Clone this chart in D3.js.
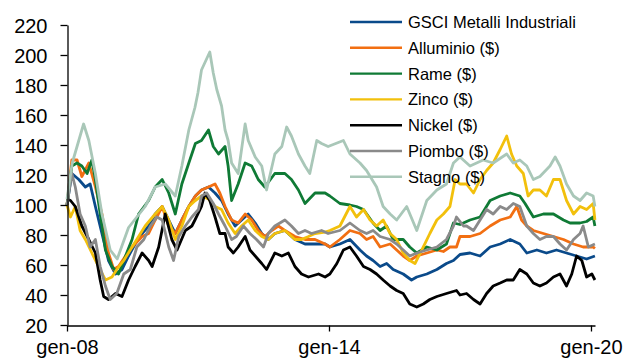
<!DOCTYPE html>
<html><head><meta charset="utf-8">
<script src="https://cdn.jsdelivr.net/npm/d3@7"></script>
<style>body{margin:0;background:#fff}svg{display:block}text{font-family:"Liberation Sans",Arial,sans-serif;fill:#000}</style>
</head><body><svg id="c" width="626" height="361"></svg>
<script>
// Series: [decimal year, index value]
const gsci = [[2008.00,100],[2008.11,121],[2008.27,117],[2008.42,112],[2008.53,114],[2008.65,99],[2008.80,81],[2008.95,63],[2009.11,54],[2009.26,57],[2009.41,66],[2009.56,74],[2009.72,81],[2009.87,86],[2010.02,94],[2010.18,99],[2010.33,90],[2010.48,81],[2010.63,90],[2010.79,99],[2010.94,106],[2011.08,110],[2011.24,112],[2011.39,108],[2011.54,103],[2011.69,94],[2011.85,86],[2012.00,90],[2012.15,94],[2012.31,88],[2012.46,81],[2012.61,77],[2012.76,81],[2012.99,83],[2013.22,77],[2013.45,74],[2013.68,74],[2013.91,74],[2014.02,72],[2014.25,74],[2014.48,77],[2014.71,70],[2014.86,66],[2015.01,63],[2015.17,59],[2015.32,61],[2015.47,57],[2015.70,54],[2015.89,50],[2016.01,52],[2016.24,54],[2016.47,57],[2016.69,61],[2016.85,63],[2017.00,67],[2017.23,68],[2017.46,66],[2017.69,72],[2017.92,74],[2018.15,77],[2018.37,74],[2018.53,68],[2018.76,70],[2018.98,68],[2019.21,70],[2019.44,68],[2019.67,66],[2019.90,64],[2020.09,66]];
const alluminio = [[2008.00,100],[2008.11,130],[2008.23,130],[2008.34,119],[2008.50,128],[2008.65,112],[2008.80,94],[2008.95,68],[2009.07,57],[2009.18,59],[2009.34,66],[2009.49,72],[2009.72,79],[2009.87,81],[2010.02,90],[2010.18,99],[2010.33,86],[2010.48,81],[2010.63,90],[2010.79,99],[2010.94,106],[2011.08,110],[2011.24,112],[2011.39,114],[2011.50,108],[2011.62,99],[2011.77,90],[2011.92,88],[2012.08,94],[2012.23,90],[2012.38,83],[2012.53,79],[2012.69,83],[2012.84,86],[2012.99,83],[2013.22,79],[2013.45,77],[2013.68,77],[2013.91,74],[2014.02,72],[2014.25,77],[2014.48,83],[2014.71,81],[2014.86,77],[2015.01,79],[2015.17,72],[2015.40,74],[2015.55,70],[2015.70,66],[2015.85,63],[2016.01,66],[2016.24,68],[2016.47,70],[2016.62,69],[2016.77,72],[2016.92,72],[2017.00,79],[2017.23,79],[2017.46,81],[2017.69,86],[2017.92,90],[2018.15,92],[2018.30,99],[2018.41,90],[2018.53,86],[2018.68,83],[2018.91,81],[2019.14,79],[2019.37,77],[2019.60,74],[2019.82,72],[2020.05,72],[2020.09,71]];
const rame = [[2008.00,100],[2008.11,126],[2008.23,128],[2008.34,126],[2008.46,121],[2008.57,130],[2008.65,117],[2008.76,94],[2008.88,70],[2009.03,59],[2009.18,54],[2009.34,66],[2009.49,77],[2009.64,94],[2009.87,103],[2010.02,112],[2010.18,117],[2010.33,108],[2010.48,94],[2010.63,114],[2010.79,128],[2010.94,141],[2011.08,143],[2011.24,150],[2011.35,139],[2011.47,134],[2011.62,139],[2011.69,126],[2011.77,103],[2011.92,114],[2012.08,128],[2012.23,126],[2012.38,117],[2012.53,112],[2012.76,121],[2012.99,121],[2013.14,117],[2013.30,110],[2013.45,101],[2013.68,108],[2013.91,108],[2014.02,106],[2014.25,101],[2014.48,100],[2014.63,99],[2014.79,97],[2015.01,88],[2015.17,83],[2015.32,86],[2015.47,77],[2015.70,77],[2015.85,72],[2016.01,68],[2016.24,72],[2016.47,70],[2016.69,74],[2016.85,88],[2017.00,87],[2017.23,90],[2017.46,92],[2017.69,103],[2017.92,106],[2018.15,108],[2018.37,106],[2018.49,101],[2018.68,92],[2018.91,94],[2019.14,94],[2019.37,90],[2019.52,88],[2019.75,88],[2019.90,89],[2020.05,92],[2020.09,86]];
const zinco = [[2008.00,100],[2008.08,92],[2008.19,99],[2008.30,83],[2008.42,77],[2008.57,68],[2008.72,59],[2008.88,50],[2009.03,52],[2009.14,57],[2009.30,63],[2009.49,72],[2009.64,79],[2009.79,86],[2010.02,94],[2010.18,99],[2010.33,90],[2010.48,77],[2010.63,86],[2010.79,99],[2010.94,103],[2011.08,106],[2011.24,104],[2011.39,99],[2011.54,97],[2011.69,88],[2011.85,81],[2012.00,86],[2012.15,90],[2012.31,83],[2012.46,79],[2012.61,77],[2012.76,81],[2012.99,83],[2013.22,77],[2013.37,77],[2013.53,79],[2013.68,81],[2013.91,82],[2014.02,83],[2014.25,86],[2014.48,99],[2014.63,92],[2014.79,97],[2014.94,90],[2015.09,86],[2015.24,90],[2015.40,81],[2015.55,77],[2015.70,68],[2015.85,63],[2015.97,61],[2016.16,72],[2016.31,81],[2016.47,90],[2016.62,94],[2016.77,99],[2016.89,117],[2017.00,114],[2017.15,114],[2017.31,108],[2017.46,117],[2017.61,123],[2017.76,128],[2017.92,137],[2018.07,146],[2018.18,134],[2018.30,126],[2018.45,121],[2018.56,106],[2018.68,110],[2018.83,110],[2018.98,106],[2019.14,117],[2019.29,117],[2019.44,103],[2019.60,94],[2019.75,99],[2019.90,97],[2020.05,101],[2020.09,90]];
const nickel = [[2008.00,104],[2008.08,103],[2008.19,99],[2008.34,86],[2008.50,77],[2008.65,68],[2008.76,50],[2008.84,39],[2008.95,37],[2009.11,41],[2009.26,39],[2009.41,50],[2009.56,59],[2009.72,68],[2009.87,63],[2009.95,59],[2010.10,72],[2010.25,94],[2010.40,77],[2010.52,70],[2010.71,83],[2010.86,86],[2010.93,90],[2011.08,99],[2011.16,108],[2011.27,103],[2011.39,92],[2011.50,81],[2011.62,81],[2011.69,72],[2011.81,68],[2011.92,72],[2012.08,79],[2012.19,70],[2012.31,66],[2012.46,61],[2012.57,57],[2012.76,68],[2012.92,66],[2013.07,68],[2013.22,59],[2013.37,54],[2013.53,52],[2013.76,54],[2013.91,52],[2014.02,54],[2014.18,61],[2014.33,70],[2014.48,72],[2014.63,66],[2014.79,59],[2014.94,57],[2015.09,54],[2015.24,50],[2015.40,46],[2015.55,43],[2015.70,41],[2015.85,34],[2016.01,32],[2016.16,34],[2016.31,37],[2016.47,39],[2016.69,41],[2016.92,43],[2017.00,40],[2017.15,41],[2017.31,37],[2017.46,34],[2017.61,41],[2017.76,46],[2017.92,48],[2018.07,50],[2018.22,50],[2018.37,57],[2018.53,54],[2018.68,48],[2018.83,46],[2018.98,48],[2019.14,52],[2019.29,54],[2019.44,46],[2019.56,54],[2019.67,66],[2019.79,63],[2019.90,52],[2020.02,54],[2020.09,50]];
const piombo = [[2008.00,100],[2008.11,121],[2008.19,112],[2008.30,94],[2008.42,86],[2008.53,72],[2008.65,77],[2008.76,59],[2008.88,46],[2008.99,37],[2009.14,41],[2009.30,54],[2009.45,57],[2009.60,72],[2009.76,77],[2009.91,86],[2010.06,92],[2010.18,90],[2010.33,72],[2010.44,63],[2010.56,79],[2010.71,86],[2010.86,92],[2011.01,97],[2011.08,106],[2011.20,108],[2011.35,101],[2011.47,94],[2011.62,86],[2011.77,77],[2011.88,79],[2012.04,86],[2012.19,81],[2012.34,77],[2012.50,72],[2012.61,81],[2012.76,86],[2012.99,90],[2013.14,86],[2013.30,81],[2013.45,83],[2013.60,81],[2013.83,83],[2013.98,81],[2014.25,83],[2014.48,88],[2014.71,83],[2014.86,81],[2015.01,83],[2015.17,79],[2015.40,77],[2015.55,74],[2015.70,70],[2015.85,66],[2016.01,68],[2016.24,70],[2016.47,72],[2016.69,77],[2016.85,86],[2016.92,92],[2017.08,86],[2017.15,86],[2017.31,83],[2017.46,90],[2017.61,97],[2017.76,94],[2017.92,99],[2018.07,97],[2018.22,101],[2018.37,99],[2018.53,86],[2018.68,81],[2018.83,77],[2018.98,79],[2019.14,79],[2019.29,74],[2019.44,70],[2019.60,77],[2019.75,81],[2019.82,86],[2019.94,72],[2020.09,74]];
const stagno = [[2008.00,104],[2008.12,128],[2008.38,154],[2008.50,143],[2008.65,121],[2008.80,94],[2008.99,70],[2009.15,64],[2009.41,85],[2009.79,99],[2010.02,112],[2010.25,114],[2010.48,106],[2010.63,126],[2010.79,150],[2010.93,165],[2011.00,175],[2011.08,190],[2011.27,202],[2011.35,188],[2011.43,177],[2011.54,166],[2011.62,150],[2011.69,143],[2011.77,128],[2011.92,121],[2012.08,154],[2012.15,143],[2012.31,132],[2012.46,126],[2012.57,110],[2012.76,134],[2012.92,139],[2013.03,152],[2013.14,146],[2013.30,134],[2013.45,126],[2013.56,121],[2013.72,143],[2013.83,141],[2013.98,139],[2014.33,143],[2014.48,134],[2014.71,128],[2014.86,123],[2015.09,112],[2015.24,99],[2015.40,94],[2015.55,90],[2015.78,99],[2016.01,83],[2016.24,103],[2016.47,110],[2016.69,114],[2016.85,128],[2017.00,132],[2017.23,126],[2017.53,130],[2017.76,128],[2018.07,134],[2018.22,128],[2018.37,130],[2018.53,126],[2018.68,117],[2018.83,119],[2019.06,126],[2019.18,132],[2019.29,126],[2019.44,114],[2019.60,106],[2019.75,103],[2019.90,108],[2020.05,106],[2020.09,99]];

const seriesNames = ["GSCI Metalli Industriali","Alluminio ($)","Rame ($)","Zinco ($)","Nickel ($)","Piombo ($)","Stagno ($)"];
const seriesData = [gsci, alluminio, rame, zinco, nickel, piombo, stagno];
const seriesColors = ["#0a4a8a","#f26f12","#0f7a35","#f2c00c","#000000","#8a8a8a","#a9c7b8"];
const yTicks = [20,40,60,80,100,120,140,160,180,200,220];
const xTicks = [2008, 2014, 2020];
const xTickLabels = ["gen-08","gen-14","gen-20"];

const svg = d3.select("#c");
const x = d3.scaleLinear().domain([2008, 2020.092]).range([67, 595]);
const y = d3.scaleLinear().domain([20, 220]).range([325, 25]);

const line = d3.line().x(d => x(d[0])).y(d => y(d[1]));
const g = svg.append("g");
seriesData.forEach((s, i) => {
  g.append("path").datum(s).attr("d", line)
    .attr("fill","none").attr("stroke", seriesColors[i])
    .attr("stroke-width", 2.8).attr("stroke-linejoin","round");
});

// Y axis
const ya = svg.append("g").attr("transform","translate(67.5,0)")
  .call(d3.axisLeft(y).tickValues(yTicks).tickSize(7).tickSizeOuter(0).tickPadding(13));
ya.select(".domain").attr("stroke","#000").attr("stroke-width",1.3);
ya.selectAll(".tick line").attr("stroke","#000").attr("stroke-width",1.3);
ya.selectAll(".tick text").attr("font-size","20px").attr("font-family","Liberation Sans, Arial, sans-serif").attr("fill","#000").attr("dy","0.38em");

// X axis
const xa = svg.append("g").attr("transform","translate(0,325.5)")
  .call(d3.axisBottom(x).tickValues(xTicks).tickFormat((d,i) => xTickLabels[i]).tickSize(6).tickSizeOuter(0).tickPadding(8));
xa.select(".domain").attr("stroke","#000").attr("stroke-width",1.3);
xa.selectAll(".tick line").attr("stroke","#000").attr("stroke-width",1.3);
xa.selectAll(".tick text").attr("font-size","20px").attr("font-family","Liberation Sans, Arial, sans-serif").attr("fill","#000");

// Legend
const lg = svg.append("g");
seriesNames.forEach((n, i) => {
  const yy = 22 + i * 25.8;
  lg.append("line").attr("x1",350).attr("x2",402).attr("y1",yy).attr("y2",yy)
    .attr("stroke",seriesColors[i]).attr("stroke-width",2.4);
  lg.append("text").attr("x",408).attr("y",yy).attr("dy","0.36em")
    .attr("font-size","16.5px").text(n);
});
</script></body></html>
